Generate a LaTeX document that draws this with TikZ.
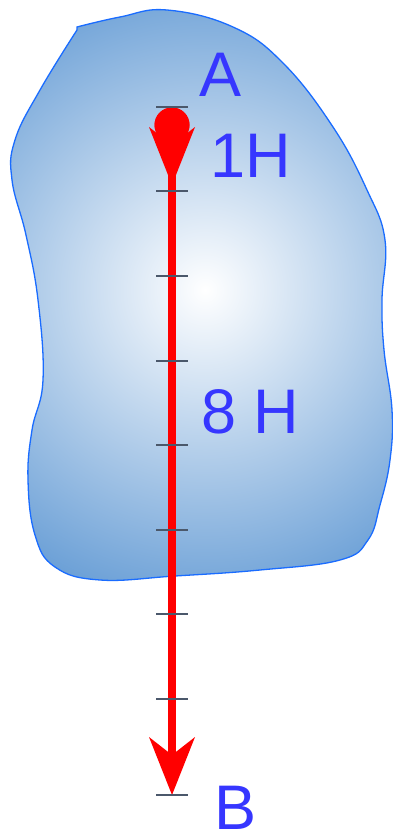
\documentclass[tikz,border=0pt]{standalone}
\usepackage{fontspec}
\setmainfont{Liberation Sans}
\usepackage{tikz}
\usetikzlibrary{arrows.meta, positioning, calc}
\definecolor{BlobEdge}{HTML}{1A6CFF}
\definecolor{BlobFill}{HTML}{6A9FD6}
\definecolor{TagInk}{HTML}{3636FF}
\definecolor{TickInk}{HTML}{4B586B}
\definecolor{PathRed}{HTML}{FF0000}

\begin{document}
\begin{tikzpicture}[
    x=1pt, y=-1pt,
    tagtext/.style={
      anchor=base west,
      inner sep=0pt,
      text=TagInk,
      font=\fontsize{63}{70}\selectfont,
    },
    scaletick/.style={draw=TickInk, line width=2pt},
    redpath/.style={draw=PathRed, line width=8pt},
    redtip/.style={-{Stealth[length=58pt, width=46pt, inset=18pt, line width=0pt, fill=PathRed]}},
    startdot/.style={circle, fill=PathRed, minimum size=35pt, inner sep=0pt},
  ]
    \useasboundingbox (0,0) rectangle (393,832);
    % region
    \draw[BlobEdge, line width=1.3pt,
      path picture={\shade[inner color=white, outer color=BlobFill]
        (-115,-30) rectangle (525,610);}]
      plot[smooth, tension=0.7] coordinates {
        (77,27) (120,17) (167,10) (233,27) (283,63) (333,127) (367,190)
        (385,240) (382,300) (384,350) (392,410) (390,460) (380,505)
        (368,540) (340,560) (260,570) (175,576) (100,580) (55,567)
        (35,535) (28,480) (32,430) (43,380) (38,300) (26,235) (12,180)
        (15,140) (40,90) (77,30)} -- cycle;
    \node[startdot] (ptA) at (172,125) {};
    \coordinate (ptB) at (172,795);
    \coordinate (midtip) at (172,185);
    \draw[redpath, redtip] (ptA.center) -- (ptB);
    \draw[redpath, redtip] (ptA.center) -- (midtip);
    \node[startdot] at (ptA) {};
    \foreach \k in {0,...,7}
      \draw[scaletick] (156,{106.7+84.6*\k}) -- ++(32,0);
    \draw[scaletick] ([xshift=-16pt]ptB) -- ([xshift=16pt]ptB);
    \node[tagtext] (tagA) at (199,97) {A};
    \node[tagtext] (tagOne) at (210,177) {1H};
    \node[tagtext] (tagEight) at (201,433) {8 H};
    \node[tagtext] (tagB) at (214,829) {B};
  \end{tikzpicture}
\end{document}
